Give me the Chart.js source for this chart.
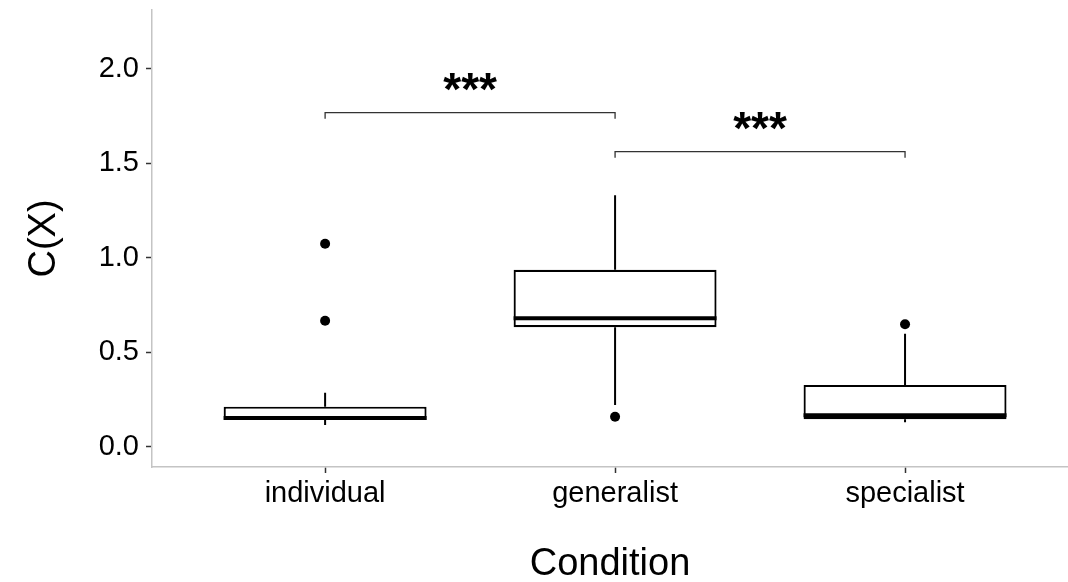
<!DOCTYPE html>
<html>
<head>
<meta charset="utf-8">
<script src="https://cdn.jsdelivr.net/npm/chart.js@4.4.1/dist/chart.umd.min.js"></script>
<style>
html, body { margin: 0; padding: 0; background: #fff; }
#wrap { width: 1068px; height: 582px; }
</style>
</head>
<body>
<div id="wrap"><canvas id="box"></canvas></div>
<script>
// values
const categories = ['individual', 'generalist', 'specialist'];
const whiskerLow = [0.116, 0.222, 0.13];
const q1 = [0.143, 0.633, 0.147];
const median = [0.153, 0.681, 0.168];
const q3 = [0.213, 0.937, 0.328];
const whiskerHigh = [0.287, 1.33, 0.598];
const outliers = [[1.074, 0.667], [0.16], [0.649]];
const yTicks = [0, 0.5, 1.0, 1.5, 2.0];
// significance brackets
const sigFrom = [0, 1];
const sigTo = [1, 2];
const sigY = [1.767, 1.561];
const sigLabel = ['***', '***'];

const FONT = "'Liberation Sans', Arial, Helvetica, sans-serif";

// whiskers behind the boxes, medians + brackets on top
const boxExtras = {
    id: 'boxExtras',
    beforeDatasetsDraw(chart) {
        const {ctx, scales: {x, y}} = chart;
        ctx.save();
        ctx.strokeStyle = '#000';
        ctx.lineWidth = 2;
        categories.forEach((c, i) => {
            const px = x.getPixelForValue(i);
            ctx.beginPath();
            ctx.moveTo(px, y.getPixelForValue(whiskerHigh[i]));
            ctx.lineTo(px, y.getPixelForValue(q3[i]));
            ctx.moveTo(px, y.getPixelForValue(q1[i]));
            ctx.lineTo(px, y.getPixelForValue(whiskerLow[i]));
            ctx.stroke();
        });
        ctx.restore();
    },
    afterDatasetsDraw(chart) {
        const {ctx, scales: {x, y}} = chart;
        const bars = chart.getDatasetMeta(0).data;
        ctx.save();
        // medians
        ctx.strokeStyle = '#000';
        ctx.lineWidth = 4;
        categories.forEach((c, i) => {
            const px = x.getPixelForValue(i);
            const half = bars[i].width / 2;
            const py = y.getPixelForValue(median[i]);
            ctx.beginPath();
            ctx.moveTo(px - half, py);
            ctx.lineTo(px + half, py);
            ctx.stroke();
        });
        // brackets
        ctx.strokeStyle = '#333';
        ctx.lineWidth = 1.3;
        ctx.fillStyle = '#000';
        ctx.font = 'bold 46px ' + FONT;
        ctx.textAlign = 'center';
        ctx.textBaseline = 'alphabetic';
        sigY.forEach((v, k) => {
            const x0 = x.getPixelForValue(sigFrom[k]);
            const x1 = x.getPixelForValue(sigTo[k]);
            const py = y.getPixelForValue(v);
            ctx.beginPath();
            ctx.moveTo(x0, py + 6);
            ctx.lineTo(x0, py);
            ctx.lineTo(x1, py);
            ctx.lineTo(x1, py + 6);
            ctx.stroke();
            ctx.fillText(sigLabel[k], (x0 + x1) / 2, py - 8);
        });
        ctx.restore();
    }
};

const ctx = document.getElementById('box');
new Chart(ctx, {
    type: 'bar',
    data: {
        datasets: [{
            label: 'box',
            data: categories.map((c, i) => ({x: i, y: [q1[i], q3[i]]})),
            backgroundColor: '#fff',
            borderColor: '#000',
            borderWidth: 2.2,
            borderSkipped: false,
            barPercentage: 0.7,
            categoryPercentage: 1
        }, {
            type: 'scatter',
            label: 'outliers',
            data: outliers.flatMap((vals, i) => vals.map(v => ({x: i, y: v}))),
            backgroundColor: '#000',
            borderWidth: 0,
            pointRadius: 5
        }]
    },
    options: {
        responsive: true,
        maintainAspectRatio: false,
        animation: false,
        layout: {autoPadding: false, padding: {top: 10, right: 0, left: 0, bottom: 0}},
        plugins: {
            legend: {display: false},
            tooltip: {enabled: false}
        },
        scales: {
            x: {
                type: 'linear',
                offset: false,
                min: -0.597,
                max: 2.562,
                afterBuildTicks: s => { s.ticks = [0, 1, 2].map(v => ({value: v})); },
                afterFit: s => { s.height = 115; s.paddingLeft = 0; s.paddingRight = 0; },
                ticks: {
                    callback: v => categories[v],
                    autoSkip: false,
                    maxRotation: 0,
                    color: '#000',
                    padding: 4,
                    font: {family: FONT, size: 29}
                },
                grid: {offset: false, drawOnChartArea: false, tickLength: 6, tickColor: '#333', tickWidth: 1.5},
                border: {color: '#c4c4c4', width: 1.5},
                title: {
                    display: true,
                    text: 'Condition',
                    color: '#000',
                    padding: {top: 0, bottom: -5},
                    font: {family: FONT, size: 38}
                }
            },
            y: {
                min: -0.106,
                max: 2.31,
                afterBuildTicks: s => { s.ticks = yTicks.map(v => ({value: v})); },
                afterFit: s => { s.width = 152; s.paddingTop = 0; s.paddingBottom = 0; },
                ticks: {
                    callback: v => v.toFixed(1),
                    color: '#000',
                    padding: 7,
                    font: {family: FONT, size: 29}
                },
                grid: {drawOnChartArea: false, tickLength: 6, tickColor: '#333', tickWidth: 1.5},
                border: {color: '#c4c4c4', width: 1.5},
                title: {
                    display: true,
                    text: 'C(X)',
                    color: '#000',
                    padding: {top: 22, bottom: 0},
                    font: {family: FONT, size: 38}
                }
            }
        }
    },
    plugins: [boxExtras]
});
</script>
</body>
</html>
